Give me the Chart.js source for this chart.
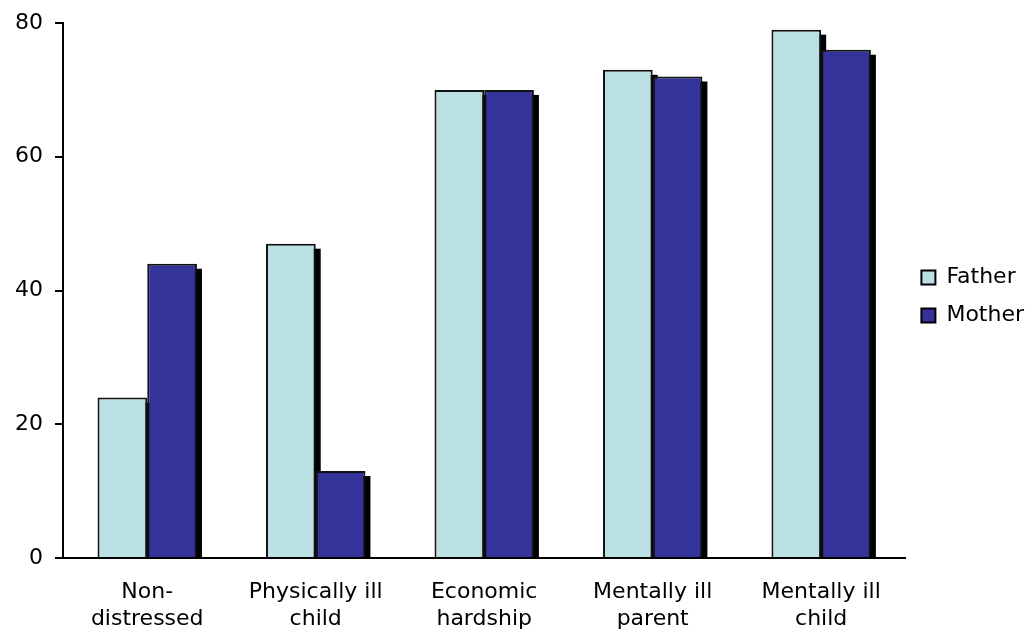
<!DOCTYPE html>
<html>
<head>
<meta charset="utf-8">
<script src="https://cdn.jsdelivr.net/npm/chart.js@4/dist/chart.umd.min.js"></script>
<style>
  html, body { margin: 0; padding: 0; background: #fff; }
  #wrap { width: 1036px; height: 633px; }
</style>
</head>
<body>
<div id="wrap"><canvas id="c" width="1036" height="633"></canvas></div>
<script>
const categories = [
  ["Non-", "distressed"],
  ["Physically ill", "child"],
  ["Economic", "hardship"],
  ["Mentally ill", "parent"],
  ["Mentally ill", "child"]
];
const fatherValues = [24, 47, 70, 73, 79];
const motherValues = [44, 13, 70, 72, 76];
const yTicks = [0, 20, 40, 60, 80];

const FONT = "'DejaVu Sans', Verdana, sans-serif";
const PAD = { left: 0, right: 2, top: 22, bottom: 0 };

// Draws a solid black drop shadow behind every bar, offset down and right.
const barShadow = {
  id: 'barShadow',
  beforeDatasetsDraw(chart) {
    const ctx = chart.ctx;
    const off = 5;
    ctx.save();
    ctx.fillStyle = '#000';
    chart.data.datasets.forEach((ds, i) => {
      const meta = chart.getDatasetMeta(i);
      meta.data.forEach(bar => {
        const p = bar.getProps(['x', 'y', 'base', 'width'], true);
        const left = p.x - p.width / 2 + off;
        const top = p.y + off;
        ctx.fillRect(left, top, p.width, p.base - top);
      });
    });
    ctx.restore();
  }
};

new Chart(document.getElementById('c'), {
  type: 'bar',
  data: {
    labels: categories,
    datasets: [
      {
        label: 'Father',
        data: fatherValues,
        backgroundColor: '#BBE0E3',
        borderColor: '#111',
        borderWidth: 2,
        borderSkipped: 'bottom'
      },
      {
        label: 'Mother',
        data: motherValues,
        backgroundColor: '#333399',
        borderColor: '#111',
        borderWidth: 2,
        borderSkipped: 'bottom'
      }
    ]
  },
  options: {
    responsive: false,
    animation: false,
    devicePixelRatio: 1,
    layout: { padding: PAD },
    datasets: {
      bar: { categoryPercentage: 0.59, barPercentage: 1.0 }
    },
    plugins: {
      tooltip: { enabled: false },
      legend: {
        position: 'right',
        fullSize: false,
        title: { display: true, text: '', font: { size: 1 }, padding: { top: 11, bottom: 0 } },
        labels: {
          color: '#000',
          boxWidth: 14,
          boxHeight: 14,
          padding: 16,
          font: { family: FONT, size: 22 },
          generateLabels(chart) {
            return chart.data.datasets.map((ds, i) => ({
              text: ds.label,
              fillStyle: ds.backgroundColor,
              strokeStyle: '#000',
              fontColor: '#000',
              lineWidth: 2,
              datasetIndex: i
            }));
          }
        }
      }
    },
    scales: {
      x: {
        afterFit(axis) { axis.height = 633 - 558 - PAD.bottom; },
        grid: { display: false, drawTicks: false },
        border: { display: true, color: '#000', width: 2 },
        ticks: {
          color: '#000',
          padding: 21,
          maxRotation: 0,
          autoSkip: false,
          font: { family: FONT, size: 22, lineHeight: 1.23 }
        }
      },
      y: {
        min: 0,
        max: 80,
        afterBuildTicks(axis) { axis.ticks = yTicks.map(v => ({ value: v })); },
        afterFit(axis) { axis.width = 63 - PAD.left; },
        grid: { display: true, drawOnChartArea: false, drawTicks: true, tickLength: 8, color: '#000', lineWidth: 2 },
        border: { display: true, color: '#000', width: 2 },
        ticks: {
          color: '#000',
          padding: 12,
          font: { family: FONT, size: 22, lineHeight: 1.0 }
        }
      }
    }
  },
  plugins: [barShadow]
});
</script>
</body>
</html>
